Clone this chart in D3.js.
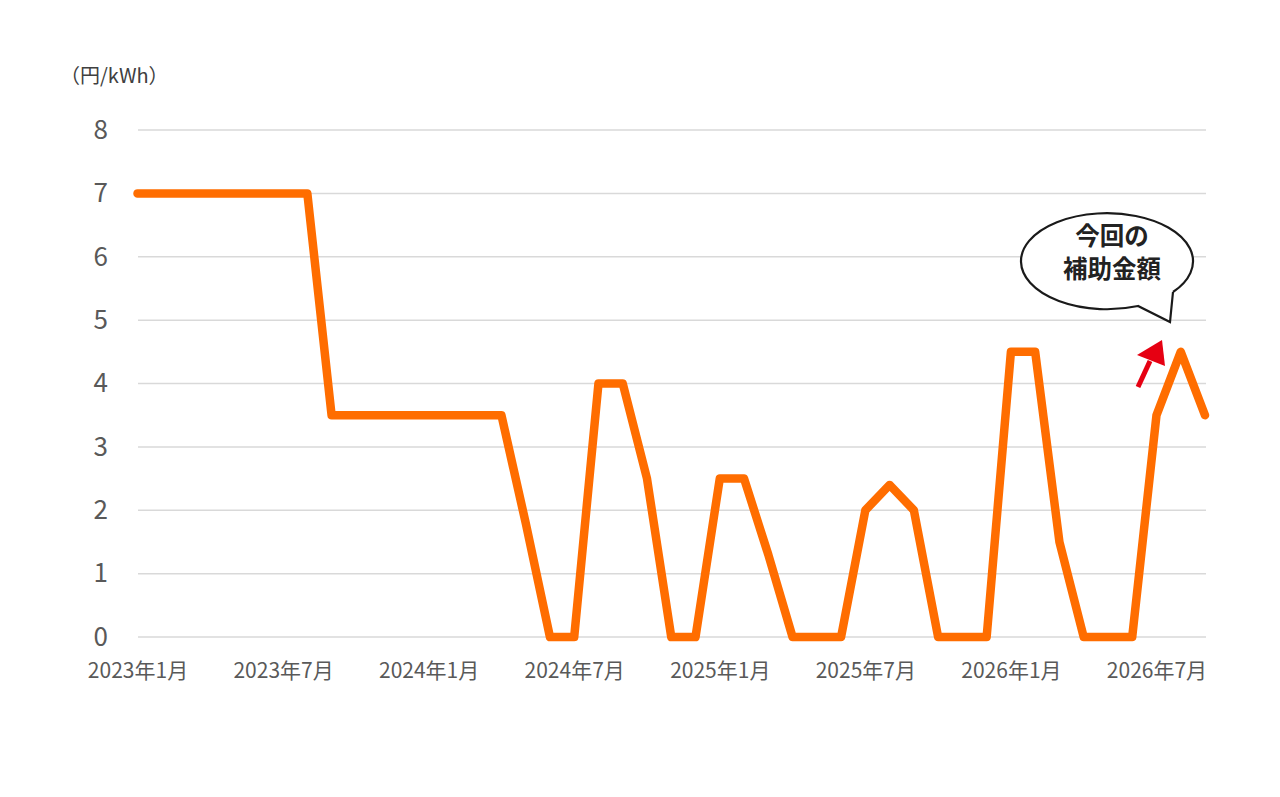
<!DOCTYPE html>
<html><head><meta charset="utf-8">
<script src="https://cdn.jsdelivr.net/npm/d3@7"></script>
<style>
html,body{margin:0;padding:0;background:#fff;}
svg{display:block;font-family:"Noto Sans CJK JP","Noto Sans",sans-serif;}
</style></head>
<body>
<script>
const months = ["2023-01","2023-02","2023-03","2023-04","2023-05","2023-06","2023-07","2023-08","2023-09","2023-10","2023-11","2023-12",
"2024-01","2024-02","2024-03","2024-04","2024-05","2024-06","2024-07","2024-08","2024-09","2024-10","2024-11","2024-12",
"2025-01","2025-02","2025-03","2025-04","2025-05","2025-06","2025-07","2025-08","2025-09","2025-10","2025-11","2025-12",
"2026-01","2026-02","2026-03","2026-04","2026-05","2026-06","2026-07","2026-08","2026-09"];
const subsidy = [7,7,7,7,7,7,7,7,3.5,3.5,3.5,3.5,
3.5,3.5,3.5,3.5,1.8,0,0,4,4,2.5,0,0,
2.5,2.5,1.3,0,0,0,2,2.4,2,0,0,0,
4.5,4.5,1.5,0,0,0,3.5,4.5,3.5];
const xTickMonths = ["2023-01","2023-07","2024-01","2024-07","2025-01","2025-07","2026-01","2026-07"];
const xTickLabels = ["2023年1月","2023年7月","2024年1月","2024年7月","2025年1月","2025年7月","2026年1月","2026年7月"];
const yTicks = [0,1,2,3,4,5,6,7,8];
const unitLabel = "（円/kWh）";
const bubbleLines = ["今回の","補助金額"];

const W = 1280, H = 797;
const svg = d3.select("body").append("svg").attr("width", W).attr("height", H);

const x = d3.scalePoint().domain(months).range([137.5, 1205]);
const y = d3.scaleLinear().domain([0, 8]).range([637, 130]);

// grid
svg.append("g").selectAll("line").data(yTicks).join("line")
  .attr("x1", 138).attr("x2", 1206)
  .attr("y1", d => y(d)).attr("y2", d => y(d))
  .attr("stroke", "#d9d9d9").attr("stroke-width", 1.5);

// y axis labels
const yAxis = svg.append("g").attr("transform", "translate(108,0)")
  .call(d3.axisLeft(y).tickValues(yTicks).tickSize(0).tickPadding(0).tickFormat(d3.format("d")));
yAxis.select(".domain").remove();
yAxis.selectAll("text").attr("fill", "#595959").attr("font-size", 26)
  .attr("font-family", "'Noto Sans CJK JP','Noto Sans',sans-serif");

// x axis labels
const labelMap = new Map(xTickMonths.map((m, i) => [m, xTickLabels[i]]));
const xAxis = svg.append("g").attr("transform", "translate(0,663)")
  .call(d3.axisBottom(x).tickValues(xTickMonths).tickSize(0).tickPadding(0).tickFormat(m => labelMap.get(m)));
xAxis.select(".domain").remove();
xAxis.selectAll("text").attr("fill", "#595959").attr("font-size", 21)
  .attr("font-family", "'Noto Sans CJK JP','Noto Sans',sans-serif");

// unit label
svg.append("text").attr("x", 60).attr("y", 83).attr("fill", "#404040")
  .attr("font-size", 20).text(unitLabel);

// line
const line = d3.line().x((d, i) => x(months[i])).y(d => y(d));
svg.append("path").datum(subsidy).attr("d", line)
  .attr("fill", "none").attr("stroke", "#FF6D00").attr("stroke-width", 8.5)
  .attr("stroke-linejoin", "round").attr("stroke-linecap", "round");

// red arrow
const arrow = svg.append("g");
arrow.append("line").attr("x1", 1138).attr("y1", 387).attr("x2", 1150).attr("y2", 361)
  .attr("stroke", "#E60012").attr("stroke-width", 5);
arrow.append("path").attr("d", "M1162,340 L1137,355 L1165,366 Z").attr("fill", "#E60012");

// speech bubble
const rx = 86, ry = 48;
svg.append("path").attr("d", `M1173,292 A${rx},${ry} 0 1 0 1138,306 L1170,322 L1173,292`)
  .attr("fill", "#fff").attr("stroke", "#1a1a1a").attr("stroke-width", 2.2).attr("stroke-linejoin", "miter");
svg.append("g").selectAll("text").data(bubbleLines).join("text")
  .attr("x", 1112).attr("y", (d, i) => 245 + i * 33)
  .attr("text-anchor", "middle").attr("font-size", 24.5).attr("font-weight", "bold")
  .attr("fill", "#222").text(d => d);
</script>
</body></html>
